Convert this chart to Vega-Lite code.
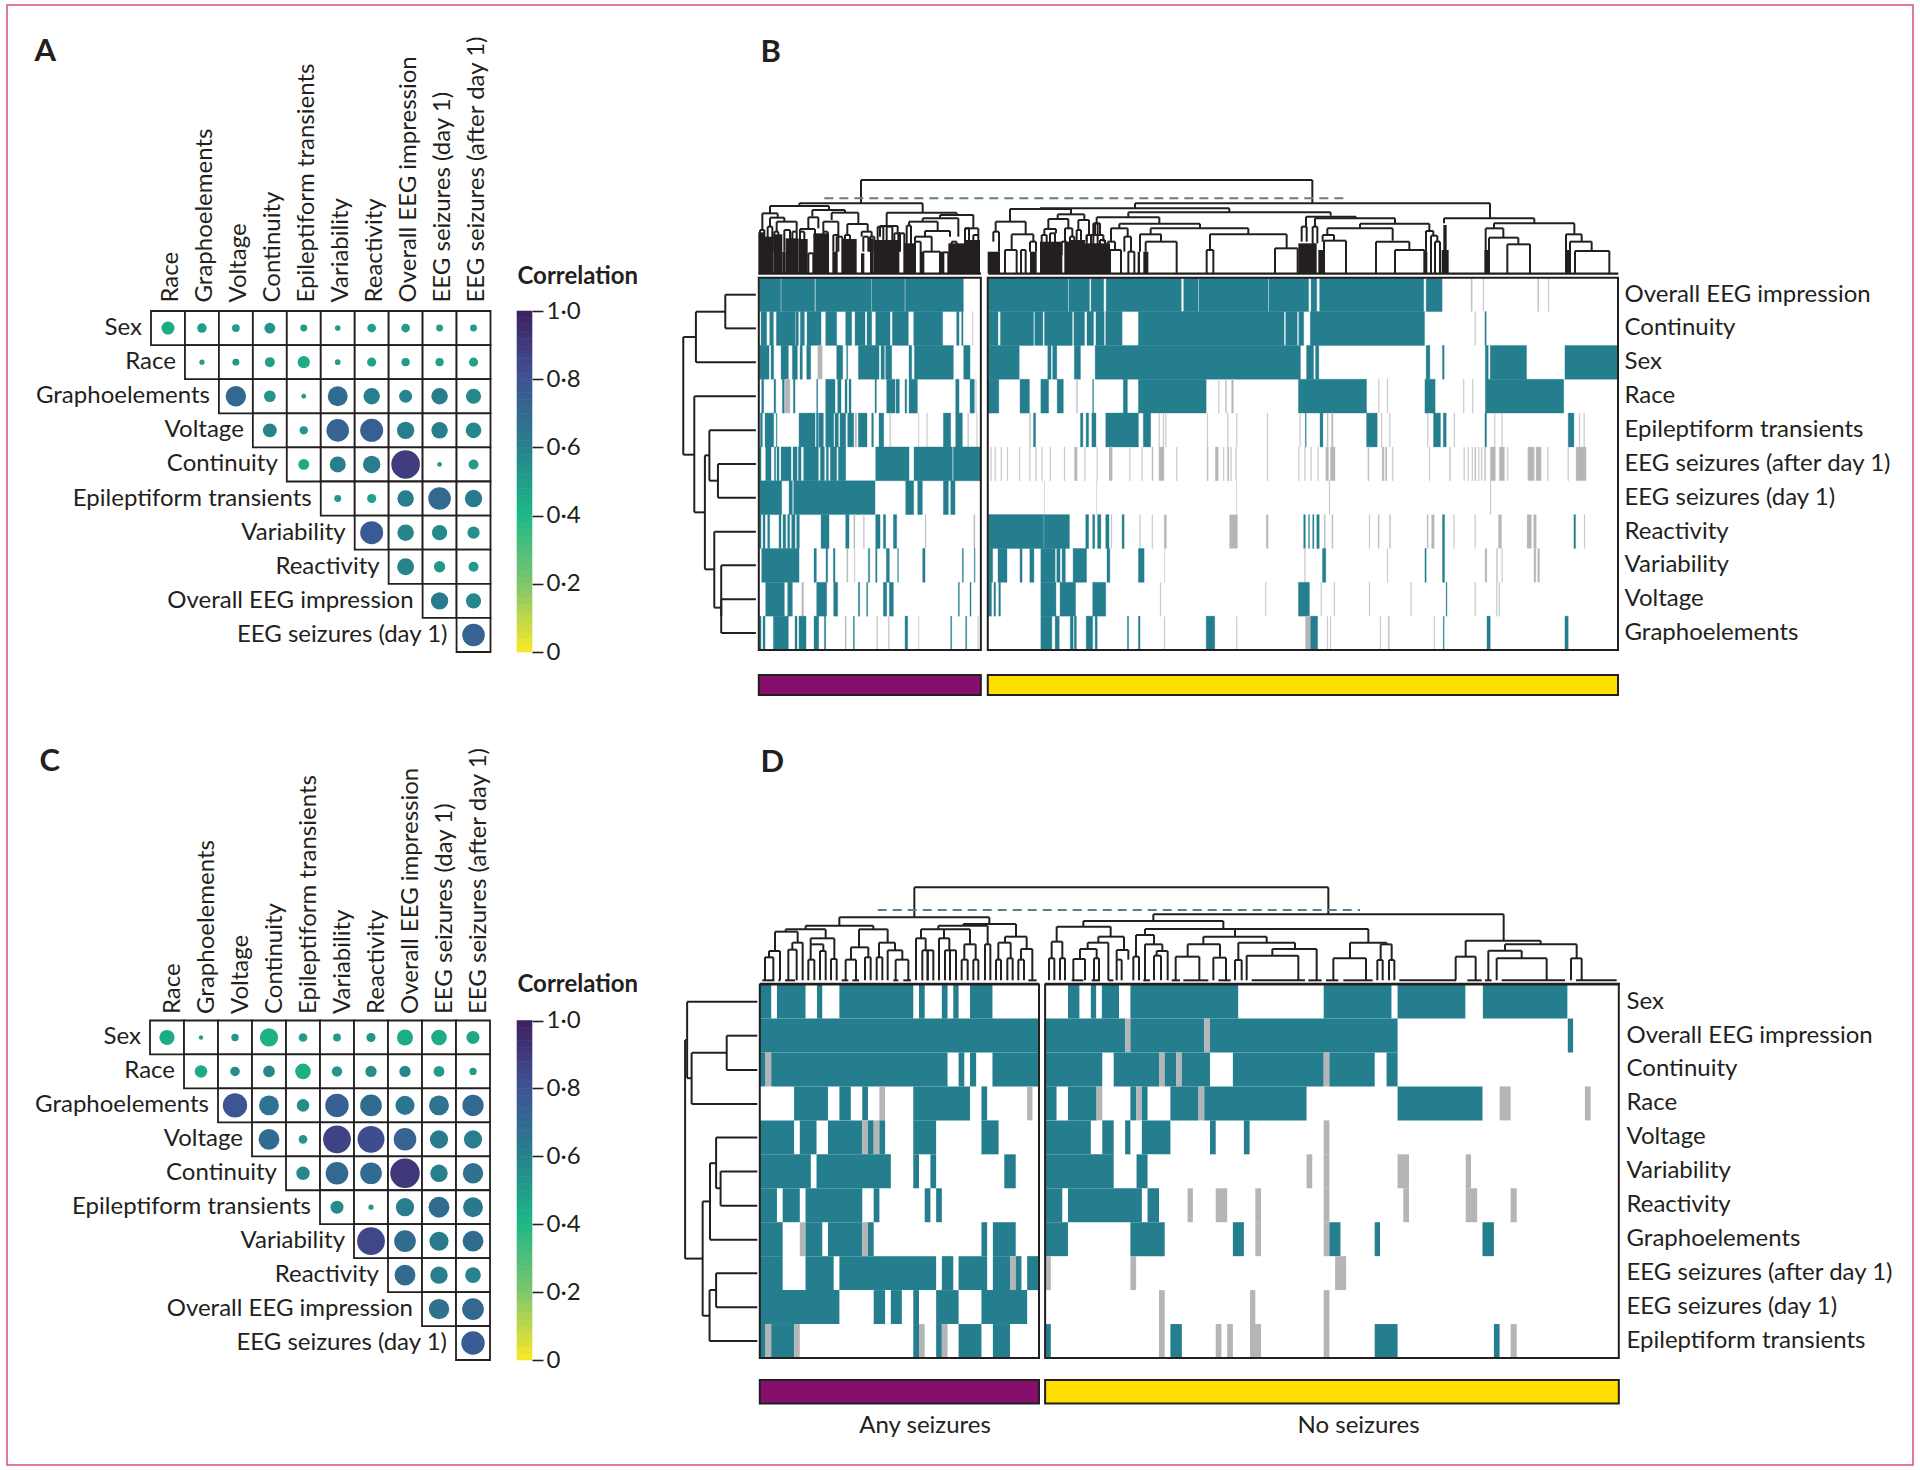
{
"$schema":"https://vega.github.io/schema/vega-lite/v6.json",
"width":1920,"height":1470,"autosize":{"type":"none"},"padding":0,"background":"white",
"config":{"view":{"stroke":null},"font":"Lato","axis":{"grid":false},"text":{"font":"Lato"}},
"resolve":{"scale":{"x":"independent","y":"independent","color":"independent","size":"independent","stroke":"independent"}},
"datasets":{
"frame":[{"a":0,"b":1}],
"ramp":[{"c":0,"d":0.02},{"c":0.02,"d":0.04},{"c":0.04,"d":0.06},{"c":0.06,"d":0.08},{"c":0.08,"d":0.1},{"c":0.1,"d":0.12},{"c":0.12,"d":0.14},{"c":0.14,"d":0.16},{"c":0.16,"d":0.18},{"c":0.18,"d":0.2},{"c":0.2,"d":0.22},{"c":0.22,"d":0.24},{"c":0.24,"d":0.26},{"c":0.26,"d":0.28},{"c":0.28,"d":0.3},{"c":0.3,"d":0.32},{"c":0.32,"d":0.34},{"c":0.34,"d":0.36},{"c":0.36,"d":0.38},{"c":0.38,"d":0.4},{"c":0.4,"d":0.42},{"c":0.42,"d":0.44},{"c":0.44,"d":0.46},{"c":0.46,"d":0.48},{"c":0.48,"d":0.5},{"c":0.5,"d":0.52},{"c":0.52,"d":0.54},{"c":0.54,"d":0.56},{"c":0.56,"d":0.58},{"c":0.58,"d":0.6},{"c":0.6,"d":0.62},{"c":0.62,"d":0.64},{"c":0.64,"d":0.66},{"c":0.66,"d":0.68},{"c":0.68,"d":0.7},{"c":0.7,"d":0.72},{"c":0.72,"d":0.74},{"c":0.74,"d":0.76},{"c":0.76,"d":0.78},{"c":0.78,"d":0.8},{"c":0.8,"d":0.82},{"c":0.82,"d":0.84},{"c":0.84,"d":0.86},{"c":0.86,"d":0.88},{"c":0.88,"d":0.9},{"c":0.9,"d":0.92},{"c":0.92,"d":0.94},{"c":0.94,"d":0.96},{"c":0.96,"d":0.98},{"c":0.98,"d":1}],
"rowLabels":[{"row":"Sex","col":"Race"},{"row":"Race","col":"Graphoelements"},{"row":"Graphoelements","col":"Voltage"},{"row":"Voltage","col":"Continuity"},{"row":"Continuity","col":"Epileptiform transients"},{"row":"Epileptiform transients","col":"Variability"},{"row":"Variability","col":"Reactivity"},{"row":"Reactivity","col":"Overall EEG impression"},{"row":"Overall EEG impression","col":"EEG seizures (day 1)"},{"row":"EEG seizures (day 1)","col":"EEG seizures (after day 1)"}],
"cellsA":[
{"row":"Sex","col":"Race","dot":30,"corr":0.44},{"row":"Sex","col":"Graphoelements","dot":22,"corr":0.48},{"row":"Sex","col":"Voltage","dot":18,"corr":0.5},{"row":"Sex","col":"Continuity","dot":25,"corr":0.52},{"row":"Sex","col":"Epileptiform transients","dot":16,"corr":0.5},{"row":"Sex","col":"Variability","dot":13,"corr":0.5},{"row":"Sex","col":"Reactivity","dot":20,"corr":0.48},{"row":"Sex","col":"Overall EEG impression","dot":20,"corr":0.5},{"row":"Sex","col":"EEG seizures (day 1)","dot":16,"corr":0.47},{"row":"Sex","col":"EEG seizures (after day 1)","dot":16,"corr":0.5},
{"row":"Race","col":"Graphoelements","dot":12,"corr":0.5},{"row":"Race","col":"Voltage","dot":16,"corr":0.52},{"row":"Race","col":"Continuity","dot":23,"corr":0.48},{"row":"Race","col":"Epileptiform transients","dot":28,"corr":0.44},{"row":"Race","col":"Variability","dot":13,"corr":0.5},{"row":"Race","col":"Reactivity","dot":21,"corr":0.48},{"row":"Race","col":"Overall EEG impression","dot":19,"corr":0.5},{"row":"Race","col":"EEG seizures (day 1)","dot":19,"corr":0.48},{"row":"Race","col":"EEG seizures (after day 1)","dot":21,"corr":0.47},
{"row":"Graphoelements","col":"Voltage","dot":47,"corr":0.7},{"row":"Graphoelements","col":"Continuity","dot":27,"corr":0.52},{"row":"Graphoelements","col":"Epileptiform transients","dot":11,"corr":0.5},{"row":"Graphoelements","col":"Variability","dot":46,"corr":0.68},{"row":"Graphoelements","col":"Reactivity","dot":38,"corr":0.6},{"row":"Graphoelements","col":"Overall EEG impression","dot":30,"corr":0.58},{"row":"Graphoelements","col":"EEG seizures (day 1)","dot":38,"corr":0.6},{"row":"Graphoelements","col":"EEG seizures (after day 1)","dot":35,"corr":0.56},
{"row":"Voltage","col":"Continuity","dot":32,"corr":0.58},{"row":"Voltage","col":"Epileptiform transients","dot":19,"corr":0.52},{"row":"Voltage","col":"Variability","dot":52,"corr":0.72},{"row":"Voltage","col":"Reactivity","dot":53,"corr":0.74},{"row":"Voltage","col":"Overall EEG impression","dot":40,"corr":0.6},{"row":"Voltage","col":"EEG seizures (day 1)","dot":38,"corr":0.6},{"row":"Voltage","col":"EEG seizures (after day 1)","dot":36,"corr":0.57},
{"row":"Continuity","col":"Epileptiform transients","dot":25,"corr":0.45},{"row":"Continuity","col":"Variability","dot":37,"corr":0.6},{"row":"Continuity","col":"Reactivity","dot":40,"corr":0.6},{"row":"Continuity","col":"Overall EEG impression","dot":66,"corr":0.88},{"row":"Continuity","col":"EEG seizures (day 1)","dot":11,"corr":0.5},{"row":"Continuity","col":"EEG seizures (after day 1)","dot":23,"corr":0.5},
{"row":"Epileptiform transients","col":"Variability","dot":16,"corr":0.5},{"row":"Epileptiform transients","col":"Reactivity","dot":21,"corr":0.47},{"row":"Epileptiform transients","col":"Overall EEG impression","dot":38,"corr":0.6},{"row":"Epileptiform transients","col":"EEG seizures (day 1)","dot":52,"corr":0.7},{"row":"Epileptiform transients","col":"EEG seizures (after day 1)","dot":40,"corr":0.62},
{"row":"Variability","col":"Reactivity","dot":53,"corr":0.76},{"row":"Variability","col":"Overall EEG impression","dot":38,"corr":0.58},{"row":"Variability","col":"EEG seizures (day 1)","dot":35,"corr":0.56},{"row":"Variability","col":"EEG seizures (after day 1)","dot":28,"corr":0.54},
{"row":"Reactivity","col":"Overall EEG impression","dot":39,"corr":0.58},{"row":"Reactivity","col":"EEG seizures (day 1)","dot":26,"corr":0.52},{"row":"Reactivity","col":"EEG seizures (after day 1)","dot":23,"corr":0.5},
{"row":"Overall EEG impression","col":"EEG seizures (day 1)","dot":40,"corr":0.62},{"row":"Overall EEG impression","col":"EEG seizures (after day 1)","dot":35,"corr":0.57},
{"row":"EEG seizures (day 1)","col":"EEG seizures (after day 1)","dot":52,"corr":0.72}],
"cellsC":[
{"row":"Sex","col":"Race","dot":35,"corr":0.44},{"row":"Sex","col":"Graphoelements","dot":10,"corr":0.5},{"row":"Sex","col":"Voltage","dot":17,"corr":0.52},{"row":"Sex","col":"Continuity","dot":42,"corr":0.42},{"row":"Sex","col":"Epileptiform transients","dot":20,"corr":0.5},{"row":"Sex","col":"Variability","dot":18,"corr":0.5},{"row":"Sex","col":"Reactivity","dot":21,"corr":0.52},{"row":"Sex","col":"Overall EEG impression","dot":37,"corr":0.44},{"row":"Sex","col":"EEG seizures (day 1)","dot":36,"corr":0.44},{"row":"Sex","col":"EEG seizures (after day 1)","dot":30,"corr":0.46},
{"row":"Race","col":"Graphoelements","dot":29,"corr":0.44},{"row":"Race","col":"Voltage","dot":22,"corr":0.55},{"row":"Race","col":"Continuity","dot":27,"corr":0.57},{"row":"Race","col":"Epileptiform transients","dot":36,"corr":0.43},{"row":"Race","col":"Variability","dot":24,"corr":0.52},{"row":"Race","col":"Reactivity","dot":26,"corr":0.55},{"row":"Race","col":"Overall EEG impression","dot":26,"corr":0.57},{"row":"Race","col":"EEG seizures (day 1)","dot":25,"corr":0.5},{"row":"Race","col":"EEG seizures (after day 1)","dot":17,"corr":0.5},
{"row":"Graphoelements","col":"Voltage","dot":56,"corr":0.78},{"row":"Graphoelements","col":"Continuity","dot":46,"corr":0.65},{"row":"Graphoelements","col":"Epileptiform transients","dot":29,"corr":0.55},{"row":"Graphoelements","col":"Variability","dot":54,"corr":0.74},{"row":"Graphoelements","col":"Reactivity","dot":50,"corr":0.68},{"row":"Graphoelements","col":"Overall EEG impression","dot":44,"corr":0.63},{"row":"Graphoelements","col":"EEG seizures (day 1)","dot":46,"corr":0.65},{"row":"Graphoelements","col":"EEG seizures (after day 1)","dot":49,"corr":0.7},
{"row":"Voltage","col":"Continuity","dot":48,"corr":0.68},{"row":"Voltage","col":"Epileptiform transients","dot":20,"corr":0.52},{"row":"Voltage","col":"Variability","dot":64,"corr":0.86},{"row":"Voltage","col":"Reactivity","dot":62,"corr":0.82},{"row":"Voltage","col":"Overall EEG impression","dot":52,"corr":0.72},{"row":"Voltage","col":"EEG seizures (day 1)","dot":42,"corr":0.62},{"row":"Voltage","col":"EEG seizures (after day 1)","dot":42,"corr":0.6},
{"row":"Continuity","col":"Epileptiform transients","dot":31,"corr":0.57},{"row":"Continuity","col":"Variability","dot":52,"corr":0.7},{"row":"Continuity","col":"Reactivity","dot":50,"corr":0.68},{"row":"Continuity","col":"Overall EEG impression","dot":68,"corr":0.9},{"row":"Continuity","col":"EEG seizures (day 1)","dot":40,"corr":0.6},{"row":"Continuity","col":"EEG seizures (after day 1)","dot":47,"corr":0.66},
{"row":"Epileptiform transients","col":"Variability","dot":30,"corr":0.55},{"row":"Epileptiform transients","col":"Reactivity","dot":12,"corr":0.5},{"row":"Epileptiform transients","col":"Overall EEG impression","dot":42,"corr":0.6},{"row":"Epileptiform transients","col":"EEG seizures (day 1)","dot":48,"corr":0.68},{"row":"Epileptiform transients","col":"EEG seizures (after day 1)","dot":46,"corr":0.63},
{"row":"Variability","col":"Reactivity","dot":64,"corr":0.84},{"row":"Variability","col":"Overall EEG impression","dot":50,"corr":0.68},{"row":"Variability","col":"EEG seizures (day 1)","dot":44,"corr":0.62},{"row":"Variability","col":"EEG seizures (after day 1)","dot":48,"corr":0.68},
{"row":"Reactivity","col":"Overall EEG impression","dot":48,"corr":0.68},{"row":"Reactivity","col":"EEG seizures (day 1)","dot":40,"corr":0.6},{"row":"Reactivity","col":"EEG seizures (after day 1)","dot":36,"corr":0.58},
{"row":"Overall EEG impression","col":"EEG seizures (day 1)","dot":47,"corr":0.66},{"row":"Overall EEG impression","col":"EEG seizures (after day 1)","dot":50,"corr":0.7},
{"row":"EEG seizures (day 1)","col":"EEG seizures (after day 1)","dot":54,"corr":0.75}],
"heatBL":[
{"r":0,"a":14,"b":77,"v":"yes"},{"r":0,"a":79,"b":179,"v":"yes"},{"r":0,"a":182,"b":349,"v":"yes"},{"r":0,"a":351,"b":449,"v":"yes"},{"r":0,"a":451,"b":625,"v":"yes"},
{"r":1,"a":18,"b":35,"v":"yes"},{"r":1,"a":44,"b":55,"v":"yes"},{"r":1,"a":64,"b":120,"v":"yes"},{"r":1,"a":122,"b":130,"v":"yes"},{"r":1,"a":136,"b":148,"v":"yes"},{"r":1,"a":156,"b":198,"v":"yes"},{"r":1,"a":212,"b":245,"v":"yes"},{"r":1,"a":272,"b":290,"v":"yes"},{"r":1,"a":300,"b":330,"v":"yes"},{"r":1,"a":336,"b":350,"v":"yes"},{"r":1,"a":362,"b":405,"v":"yes"},{"r":1,"a":412,"b":460,"v":"yes"},{"r":1,"a":476,"b":563,"v":"yes"},{"r":1,"a":605,"b":612,"v":"yes"},{"r":1,"a":620,"b":624,"v":"yes"},{"r":1,"a":652,"b":654,"v":"na"},
{"r":2,"a":14,"b":42,"v":"yes"},{"r":2,"a":48,"b":56,"v":"yes"},{"r":2,"a":78,"b":100,"v":"yes"},{"r":2,"a":112,"b":127,"v":"yes"},{"r":2,"a":135,"b":142,"v":"yes"},{"r":2,"a":155,"b":167,"v":"yes"},{"r":2,"a":188,"b":202,"v":"na"},{"r":2,"a":245,"b":263,"v":"yes"},{"r":2,"a":275,"b":278,"v":"yes"},{"r":2,"a":310,"b":372,"v":"yes"},{"r":2,"a":378,"b":388,"v":"yes"},{"r":2,"a":392,"b":410,"v":"yes"},{"r":2,"a":462,"b":470,"v":"yes"},{"r":2,"a":478,"b":595,"v":"yes"},{"r":2,"a":626,"b":645,"v":"yes"},
{"r":3,"a":20,"b":26,"v":"yes"},{"r":3,"a":57,"b":62,"v":"yes"},{"r":3,"a":82,"b":88,"v":"yes"},{"r":3,"a":90,"b":105,"v":"na"},{"r":3,"a":115,"b":120,"v":"yes"},{"r":3,"a":185,"b":188,"v":"yes"},{"r":3,"a":212,"b":240,"v":"yes"},{"r":3,"a":248,"b":258,"v":"yes"},{"r":3,"a":270,"b":276,"v":"yes"},{"r":3,"a":282,"b":288,"v":"yes"},{"r":3,"a":360,"b":364,"v":"yes"},{"r":3,"a":395,"b":420,"v":"yes"},{"r":3,"a":423,"b":433,"v":"yes"},{"r":3,"a":450,"b":455,"v":"yes"},{"r":3,"a":462,"b":487,"v":"yes"},{"r":3,"a":602,"b":612,"v":"yes"},{"r":3,"a":645,"b":658,"v":"yes"},{"r":3,"a":662,"b":664,"v":"na"},
{"r":4,"a":16,"b":22,"v":"yes"},{"r":4,"a":30,"b":56,"v":"yes"},{"r":4,"a":64,"b":66,"v":"yes"},{"r":4,"a":132,"b":180,"v":"yes"},{"r":4,"a":184,"b":190,"v":"yes"},{"r":4,"a":192,"b":205,"v":"yes"},{"r":4,"a":212,"b":236,"v":"yes"},{"r":4,"a":240,"b":250,"v":"yes"},{"r":4,"a":255,"b":272,"v":"yes"},{"r":4,"a":278,"b":296,"v":"yes"},{"r":4,"a":300,"b":305,"v":"na"},{"r":4,"a":310,"b":336,"v":"yes"},{"r":4,"a":350,"b":355,"v":"yes"},{"r":4,"a":372,"b":386,"v":"yes"},{"r":4,"a":404,"b":407,"v":"na"},{"r":4,"a":490,"b":492,"v":"na"},{"r":4,"a":515,"b":517,"v":"na"},{"r":4,"a":565,"b":587,"v":"yes"},{"r":4,"a":602,"b":622,"v":"yes"},{"r":4,"a":638,"b":641,"v":"na"},{"r":4,"a":665,"b":667,"v":"na"},
{"r":5,"a":14,"b":18,"v":"yes"},{"r":5,"a":32,"b":48,"v":"yes"},{"r":5,"a":58,"b":62,"v":"yes"},{"r":5,"a":66,"b":72,"v":"yes"},{"r":5,"a":78,"b":108,"v":"yes"},{"r":5,"a":114,"b":126,"v":"yes"},{"r":5,"a":130,"b":138,"v":"yes"},{"r":5,"a":146,"b":190,"v":"yes"},{"r":5,"a":196,"b":208,"v":"yes"},{"r":5,"a":214,"b":220,"v":"yes"},{"r":5,"a":226,"b":245,"v":"yes"},{"r":5,"a":250,"b":272,"v":"yes"},{"r":5,"a":362,"b":462,"v":"yes"},{"r":5,"a":477,"b":592,"v":"yes"},{"r":5,"a":595,"b":677,"v":"yes"},
{"r":6,"a":14,"b":80,"v":"yes"},{"r":6,"a":102,"b":112,"v":"yes"},{"r":6,"a":116,"b":360,"v":"yes"},{"r":6,"a":452,"b":476,"v":"yes"},{"r":6,"a":488,"b":502,"v":"yes"},{"r":6,"a":565,"b":580,"v":"yes"},{"r":6,"a":587,"b":600,"v":"yes"},
{"r":7,"a":14,"b":18,"v":"yes"},{"r":7,"a":24,"b":30,"v":"yes"},{"r":7,"a":38,"b":44,"v":"yes"},{"r":7,"a":72,"b":78,"v":"yes"},{"r":7,"a":84,"b":92,"v":"yes"},{"r":7,"a":98,"b":104,"v":"yes"},{"r":7,"a":110,"b":120,"v":"yes"},{"r":7,"a":125,"b":133,"v":"yes"},{"r":7,"a":198,"b":222,"v":"yes"},{"r":7,"a":272,"b":282,"v":"yes"},{"r":7,"a":296,"b":300,"v":"na"},{"r":7,"a":325,"b":328,"v":"na"},{"r":7,"a":362,"b":375,"v":"yes"},{"r":7,"a":385,"b":392,"v":"yes"},{"r":7,"a":415,"b":425,"v":"yes"},{"r":7,"a":510,"b":513,"v":"na"},{"r":7,"a":656,"b":660,"v":"na"},
{"r":8,"a":20,"b":132,"v":"yes"},{"r":8,"a":177,"b":184,"v":"yes"},{"r":8,"a":213,"b":218,"v":"yes"},{"r":8,"a":235,"b":240,"v":"yes"},{"r":8,"a":275,"b":279,"v":"na"},{"r":8,"a":298,"b":300,"v":"na"},{"r":8,"a":340,"b":344,"v":"yes"},{"r":8,"a":362,"b":366,"v":"yes"},{"r":8,"a":394,"b":403,"v":"yes"},{"r":8,"a":428,"b":430,"v":"yes"},{"r":8,"a":503,"b":510,"v":"yes"},{"r":8,"a":622,"b":625,"v":"yes"},{"r":8,"a":658,"b":660,"v":"yes"},
{"r":9,"a":32,"b":88,"v":"yes"},{"r":9,"a":98,"b":112,"v":"yes"},{"r":9,"a":140,"b":146,"v":"na"},{"r":9,"a":185,"b":215,"v":"yes"},{"r":9,"a":236,"b":248,"v":"yes"},{"r":9,"a":310,"b":314,"v":"yes"},{"r":9,"a":335,"b":338,"v":"yes"},{"r":9,"a":385,"b":395,"v":"yes"},{"r":9,"a":403,"b":415,"v":"yes"},{"r":9,"a":610,"b":613,"v":"yes"},{"r":9,"a":645,"b":648,"v":"yes"},
{"r":10,"a":14,"b":18,"v":"yes"},{"r":10,"a":24,"b":30,"v":"yes"},{"r":10,"a":55,"b":100,"v":"yes"},{"r":10,"a":120,"b":126,"v":"yes"},{"r":10,"a":132,"b":153,"v":"yes"},{"r":10,"a":177,"b":191,"v":"yes"},{"r":10,"a":208,"b":212,"v":"yes"},{"r":10,"a":270,"b":274,"v":"na"},{"r":10,"a":295,"b":298,"v":"yes"},{"r":10,"a":365,"b":368,"v":"na"},{"r":10,"a":400,"b":403,"v":"na"},{"r":10,"a":450,"b":458,"v":"yes"},{"r":10,"a":490,"b":492,"v":"na"},{"r":10,"a":587,"b":590,"v":"yes"},{"r":10,"a":632,"b":635,"v":"yes"},{"r":10,"a":668,"b":670,"v":"na"}],
"heatBR":[
{"r":0,"a":805,"b":1000,"v":"yes"},{"r":0,"a":1002,"b":1052,"v":"yes"},{"r":0,"a":1056,"b":1087,"v":"yes"},{"r":0,"a":1093,"b":1277,"v":"yes"},{"r":0,"a":1283,"b":1318,"v":"yes"},{"r":0,"a":1320,"b":1490,"v":"yes"},{"r":0,"a":1492,"b":1589,"v":"yes"},{"r":0,"a":1595,"b":1609,"v":"yes"},{"r":0,"a":1616,"b":1871,"v":"yes"},{"r":0,"a":1877,"b":1916,"v":"yes"},{"r":0,"a":1987,"b":1990,"v":"na"},{"r":0,"a":2016,"b":2018,"v":"na"},{"r":0,"a":2150,"b":2153,"v":"na"},{"r":0,"a":2176,"b":2178,"v":"na"},
{"r":1,"a":805,"b":828,"v":"yes"},{"r":1,"a":834,"b":915,"v":"yes"},{"r":1,"a":918,"b":938,"v":"yes"},{"r":1,"a":942,"b":1010,"v":"yes"},{"r":1,"a":1014,"b":1040,"v":"yes"},{"r":1,"a":1046,"b":1062,"v":"yes"},{"r":1,"a":1068,"b":1088,"v":"yes"},{"r":1,"a":1092,"b":1132,"v":"yes"},{"r":1,"a":1172,"b":1529,"v":"yes"},{"r":1,"a":1533,"b":1561,"v":"yes"},{"r":1,"a":1565,"b":1577,"v":"yes"},{"r":1,"a":1593,"b":1873,"v":"yes"},{"r":1,"a":1996,"b":1998,"v":"na"},{"r":1,"a":2021,"b":2024,"v":"yes"},
{"r":2,"a":805,"b":880,"v":"yes"},{"r":2,"a":950,"b":958,"v":"yes"},{"r":2,"a":962,"b":972,"v":"yes"},{"r":2,"a":1015,"b":1030,"v":"yes"},{"r":2,"a":1066,"b":1569,"v":"yes"},{"r":2,"a":1584,"b":1601,"v":"yes"},{"r":2,"a":1606,"b":1614,"v":"yes"},{"r":2,"a":1877,"b":1886,"v":"yes"},{"r":2,"a":1917,"b":1921,"v":"yes"},{"r":2,"a":2022,"b":2029,"v":"yes"},{"r":2,"a":2034,"b":2123,"v":"yes"},{"r":2,"a":2217,"b":2347,"v":"yes"},
{"r":3,"a":803,"b":830,"v":"yes"},{"r":3,"a":882,"b":905,"v":"yes"},{"r":3,"a":933,"b":952,"v":"yes"},{"r":3,"a":973,"b":988,"v":"yes"},{"r":3,"a":1020,"b":1023,"v":"na"},{"r":3,"a":1060,"b":1062,"v":"yes"},{"r":3,"a":1135,"b":1145,"v":"yes"},{"r":3,"a":1172,"b":1338,"v":"yes"},{"r":3,"a":1368,"b":1370,"v":"na"},{"r":3,"a":1385,"b":1388,"v":"na"},{"r":3,"a":1400,"b":1405,"v":"na"},{"r":3,"a":1564,"b":1731,"v":"yes"},{"r":3,"a":1760,"b":1762,"v":"na"},{"r":3,"a":1781,"b":1783,"v":"na"},{"r":3,"a":1874,"b":1899,"v":"yes"},{"r":3,"a":1968,"b":1970,"v":"na"},{"r":3,"a":1990,"b":1992,"v":"na"},{"r":3,"a":2022,"b":2214,"v":"yes"},
{"r":4,"a":905,"b":908,"v":"na"},{"r":4,"a":915,"b":920,"v":"yes"},{"r":4,"a":1030,"b":1036,"v":"yes"},{"r":4,"a":1044,"b":1050,"v":"yes"},{"r":4,"a":1058,"b":1068,"v":"yes"},{"r":4,"a":1092,"b":1172,"v":"yes"},{"r":4,"a":1184,"b":1202,"v":"yes"},{"r":4,"a":1222,"b":1224,"v":"na"},{"r":4,"a":1232,"b":1234,"v":"na"},{"r":4,"a":1238,"b":1240,"v":"na"},{"r":4,"a":1340,"b":1342,"v":"na"},{"r":4,"a":1390,"b":1392,"v":"na"},{"r":4,"a":1412,"b":1414,"v":"na"},{"r":4,"a":1487,"b":1489,"v":"na"},{"r":4,"a":1567,"b":1569,"v":"na"},{"r":4,"a":1581,"b":1583,"v":"yes"},{"r":4,"a":1617,"b":1624,"v":"yes"},{"r":4,"a":1634,"b":1637,"v":"na"},{"r":4,"a":1645,"b":1649,"v":"na"},{"r":4,"a":1731,"b":1757,"v":"yes"},{"r":4,"a":1767,"b":1769,"v":"na"},{"r":4,"a":1787,"b":1789,"v":"na"},{"r":4,"a":1880,"b":1882,"v":"na"},{"r":4,"a":1895,"b":1912,"v":"yes"},{"r":4,"a":1919,"b":1926,"v":"yes"},{"r":4,"a":1945,"b":1947,"v":"na"},{"r":4,"a":2021,"b":2025,"v":"yes"},{"r":4,"a":2044,"b":2046,"v":"na"},{"r":4,"a":2062,"b":2064,"v":"na"},{"r":4,"a":2225,"b":2239,"v":"yes"},{"r":4,"a":2252,"b":2254,"v":"na"},{"r":4,"a":2263,"b":2265,"v":"na"},
{"r":5,"a":810,"b":812,"v":"na"},{"r":5,"a":820,"b":822,"v":"na"},{"r":5,"a":835,"b":837,"v":"na"},{"r":5,"a":850,"b":852,"v":"na"},{"r":5,"a":880,"b":882,"v":"na"},{"r":5,"a":905,"b":907,"v":"na"},{"r":5,"a":920,"b":922,"v":"na"},{"r":5,"a":935,"b":937,"v":"na"},{"r":5,"a":955,"b":957,"v":"na"},{"r":5,"a":990,"b":992,"v":"na"},{"r":5,"a":1015,"b":1022,"v":"na"},{"r":5,"a":1040,"b":1042,"v":"na"},{"r":5,"a":1070,"b":1072,"v":"na"},{"r":5,"a":1100,"b":1108,"v":"na"},{"r":5,"a":1150,"b":1152,"v":"na"},{"r":5,"a":1180,"b":1182,"v":"na"},{"r":5,"a":1205,"b":1208,"v":"na"},{"r":5,"a":1222,"b":1235,"v":"na"},{"r":5,"a":1265,"b":1267,"v":"na"},{"r":5,"a":1340,"b":1343,"v":"na"},{"r":5,"a":1360,"b":1368,"v":"na"},{"r":5,"a":1380,"b":1382,"v":"na"},{"r":5,"a":1390,"b":1394,"v":"na"},{"r":5,"a":1398,"b":1400,"v":"na"},{"r":5,"a":1410,"b":1412,"v":"na"},{"r":5,"a":1487,"b":1489,"v":"na"},{"r":5,"a":1564,"b":1566,"v":"na"},{"r":5,"a":1579,"b":1581,"v":"na"},{"r":5,"a":1594,"b":1596,"v":"na"},{"r":5,"a":1611,"b":1613,"v":"na"},{"r":5,"a":1631,"b":1638,"v":"na"},{"r":5,"a":1642,"b":1654,"v":"na"},{"r":5,"a":1734,"b":1737,"v":"na"},{"r":5,"a":1769,"b":1774,"v":"na"},{"r":5,"a":1777,"b":1781,"v":"na"},{"r":5,"a":1794,"b":1796,"v":"na"},{"r":5,"a":1884,"b":1886,"v":"na"},{"r":5,"a":1934,"b":1937,"v":"na"},{"r":5,"a":1969,"b":1971,"v":"na"},{"r":5,"a":1979,"b":1981,"v":"na"},{"r":5,"a":1989,"b":1991,"v":"na"},{"r":5,"a":1996,"b":1999,"v":"na"},{"r":5,"a":2005,"b":2007,"v":"na"},{"r":5,"a":2012,"b":2014,"v":"na"},{"r":5,"a":2020,"b":2023,"v":"na"},{"r":5,"a":2034,"b":2047,"v":"na"},{"r":5,"a":2056,"b":2069,"v":"na"},{"r":5,"a":2076,"b":2078,"v":"na"},{"r":5,"a":2126,"b":2142,"v":"na"},{"r":5,"a":2146,"b":2159,"v":"na"},{"r":5,"a":2174,"b":2176,"v":"na"},{"r":5,"a":2224,"b":2226,"v":"na"},{"r":5,"a":2244,"b":2269,"v":"na"},
{"r":6,"a":941,"b":942,"v":"na"},{"r":6,"a":1069,"b":1070,"v":"na"},{"r":6,"a":1412,"b":1413,"v":"na"},{"r":6,"a":1639,"b":1641,"v":"na"},{"r":6,"a":2034,"b":2036,"v":"na"},
{"r":7,"a":805,"b":940,"v":"yes"},{"r":7,"a":941,"b":1003,"v":"yes"},{"r":7,"a":1043,"b":1050,"v":"yes"},{"r":7,"a":1060,"b":1065,"v":"yes"},{"r":7,"a":1072,"b":1080,"v":"yes"},{"r":7,"a":1092,"b":1100,"v":"yes"},{"r":7,"a":1105,"b":1107,"v":"na"},{"r":7,"a":1132,"b":1137,"v":"yes"},{"r":7,"a":1175,"b":1177,"v":"na"},{"r":7,"a":1205,"b":1207,"v":"na"},{"r":7,"a":1235,"b":1241,"v":"na"},{"r":7,"a":1395,"b":1415,"v":"na"},{"r":7,"a":1485,"b":1490,"v":"na"},{"r":7,"a":1577,"b":1581,"v":"yes"},{"r":7,"a":1589,"b":1591,"v":"yes"},{"r":7,"a":1599,"b":1602,"v":"yes"},{"r":7,"a":1609,"b":1615,"v":"yes"},{"r":7,"a":1627,"b":1630,"v":"na"},{"r":7,"a":1646,"b":1649,"v":"na"},{"r":7,"a":1737,"b":1739,"v":"na"},{"r":7,"a":1759,"b":1762,"v":"na"},{"r":7,"a":1787,"b":1790,"v":"na"},{"r":7,"a":1879,"b":1882,"v":"na"},{"r":7,"a":1890,"b":1897,"v":"na"},{"r":7,"a":1917,"b":1922,"v":"yes"},{"r":7,"a":1944,"b":1946,"v":"na"},{"r":7,"a":1996,"b":1998,"v":"na"},{"r":7,"a":2054,"b":2062,"v":"na"},{"r":7,"a":2124,"b":2135,"v":"na"},{"r":7,"a":2140,"b":2147,"v":"na"},{"r":7,"a":2239,"b":2243,"v":"yes"},{"r":7,"a":2264,"b":2266,"v":"na"},
{"r":8,"a":805,"b":815,"v":"yes"},{"r":8,"a":828,"b":850,"v":"yes"},{"r":8,"a":882,"b":887,"v":"yes"},{"r":8,"a":906,"b":916,"v":"yes"},{"r":8,"a":933,"b":968,"v":"yes"},{"r":8,"a":972,"b":980,"v":"yes"},{"r":8,"a":985,"b":993,"v":"yes"},{"r":8,"a":1012,"b":1045,"v":"yes"},{"r":8,"a":1095,"b":1102,"v":"yes"},{"r":8,"a":1172,"b":1186,"v":"yes"},{"r":8,"a":1236,"b":1237,"v":"na"},{"r":8,"a":1579,"b":1581,"v":"na"},{"r":8,"a":1623,"b":1631,"v":"yes"},{"r":8,"a":1781,"b":1783,"v":"na"},{"r":8,"a":1874,"b":1877,"v":"yes"},{"r":8,"a":1917,"b":1922,"v":"yes"},{"r":8,"a":2021,"b":2026,"v":"na"},{"r":8,"a":2049,"b":2052,"v":"na"},{"r":8,"a":2062,"b":2064,"v":"na"},{"r":8,"a":2141,"b":2146,"v":"na"},{"r":8,"a":2150,"b":2155,"v":"na"},
{"r":9,"a":805,"b":812,"v":"yes"},{"r":9,"a":818,"b":822,"v":"yes"},{"r":9,"a":830,"b":834,"v":"yes"},{"r":9,"a":933,"b":970,"v":"yes"},{"r":9,"a":980,"b":1018,"v":"yes"},{"r":9,"a":1060,"b":1092,"v":"yes"},{"r":9,"a":1225,"b":1227,"v":"na"},{"r":9,"a":1483,"b":1485,"v":"na"},{"r":9,"a":1564,"b":1591,"v":"yes"},{"r":9,"a":1619,"b":1621,"v":"na"},{"r":9,"a":1651,"b":1653,"v":"na"},{"r":9,"a":1737,"b":1739,"v":"na"},{"r":9,"a":1839,"b":1841,"v":"na"},{"r":9,"a":1926,"b":1928,"v":"yes"},{"r":9,"a":1996,"b":1998,"v":"na"},{"r":9,"a":2049,"b":2051,"v":"na"},{"r":9,"a":2055,"b":2057,"v":"na"},
{"r":10,"a":933,"b":960,"v":"yes"},{"r":10,"a":968,"b":978,"v":"yes"},{"r":10,"a":1005,"b":1012,"v":"yes"},{"r":10,"a":1015,"b":1020,"v":"yes"},{"r":10,"a":1044,"b":1060,"v":"yes"},{"r":10,"a":1066,"b":1071,"v":"yes"},{"r":10,"a":1145,"b":1148,"v":"yes"},{"r":10,"a":1172,"b":1176,"v":"yes"},{"r":10,"a":1235,"b":1237,"v":"na"},{"r":10,"a":1338,"b":1359,"v":"yes"},{"r":10,"a":1412,"b":1414,"v":"na"},{"r":10,"a":1581,"b":1594,"v":"na"},{"r":10,"a":1594,"b":1611,"v":"yes"},{"r":10,"a":1634,"b":1636,"v":"na"},{"r":10,"a":1642,"b":1644,"v":"na"},{"r":10,"a":1764,"b":1766,"v":"na"},{"r":10,"a":1784,"b":1787,"v":"na"},{"r":10,"a":1896,"b":1898,"v":"na"},{"r":10,"a":1919,"b":1921,"v":"yes"},{"r":10,"a":2026,"b":2034,"v":"yes"},{"r":10,"a":2217,"b":2225,"v":"yes"}],
"heatD":[
{"r":0,"a":220,"b":248,"v":"yes"},{"r":0,"a":262,"b":332,"v":"yes"},{"r":0,"a":360,"b":373,"v":"yes"},{"r":0,"a":415,"b":596,"v":"yes"},{"r":0,"a":610,"b":624,"v":"yes"},{"r":0,"a":666,"b":680,"v":"yes"},{"r":0,"a":694,"b":707,"v":"yes"},{"r":0,"a":735,"b":790,"v":"yes"},
{"r":0,"a":975,"b":1003,"v":"yes"},{"r":0,"a":1031,"b":1044,"v":"yes"},{"r":0,"a":1058,"b":1100,"v":"yes"},{"r":0,"a":1128,"b":1392,"v":"yes"},{"r":0,"a":1601.5,"b":1767.5,"v":"yes"},{"r":0,"a":1782.5,"b":1948.5,"v":"yes"},{"r":0,"a":1991.5,"b":2198.5,"v":"yes"},
{"r":1,"a":220,"b":904,"v":"yes"},{"r":1,"a":919,"b":1115,"v":"yes"},{"r":1,"a":1115,"b":1128,"v":"na"},{"r":1,"a":1128,"b":1309,"v":"yes"},{"r":1,"a":1309,"b":1323,"v":"na"},{"r":1,"a":1323,"b":1782.5,"v":"yes"},{"r":1,"a":2199.5,"b":2212.5,"v":"yes"},
{"r":2,"a":220,"b":234,"v":"yes"},{"r":2,"a":234,"b":248,"v":"na"},{"r":2,"a":248,"b":680,"v":"yes"},{"r":2,"a":707,"b":721,"v":"yes"},{"r":2,"a":735,"b":750,"v":"yes"},{"r":2,"a":790,"b":904,"v":"yes"},
{"r":2,"a":919,"b":1059,"v":"yes"},{"r":2,"a":1087,"b":1198,"v":"yes"},{"r":2,"a":1198,"b":1212,"v":"na"},{"r":2,"a":1212,"b":1240,"v":"yes"},{"r":2,"a":1240,"b":1254,"v":"na"},{"r":2,"a":1254,"b":1323,"v":"yes"},{"r":2,"a":1379,"b":1601.5,"v":"yes"},{"r":2,"a":1601.5,"b":1615.5,"v":"na"},{"r":2,"a":1615.5,"b":1726.5,"v":"yes"},{"r":2,"a":1755.5,"b":1782.5,"v":"yes"},
{"r":3,"a":304,"b":387,"v":"yes"},{"r":3,"a":415,"b":443,"v":"yes"},{"r":3,"a":471,"b":485,"v":"yes"},{"r":3,"a":513,"b":527,"v":"na"},{"r":3,"a":596,"b":735,"v":"yes"},{"r":3,"a":763,"b":777,"v":"yes"},{"r":3,"a":875,"b":888,"v":"na"},
{"r":3,"a":919,"b":947,"v":"yes"},{"r":3,"a":975,"b":1045,"v":"yes"},{"r":3,"a":1045,"b":1059,"v":"na"},{"r":3,"a":1128,"b":1142,"v":"yes"},{"r":3,"a":1142,"b":1156,"v":"na"},{"r":3,"a":1156,"b":1170,"v":"yes"},{"r":3,"a":1226,"b":1295,"v":"yes"},{"r":3,"a":1295,"b":1309,"v":"na"},{"r":3,"a":1309,"b":1559.5,"v":"yes"},{"r":3,"a":1782.5,"b":1990.5,"v":"yes"},{"r":3,"a":2032.5,"b":2059.5,"v":"na"},{"r":3,"a":2241.5,"b":2255.5,"v":"na"},
{"r":4,"a":220,"b":304,"v":"yes"},{"r":4,"a":318,"b":359,"v":"yes"},{"r":4,"a":387,"b":471,"v":"yes"},{"r":4,"a":471,"b":485,"v":"na"},{"r":4,"a":485,"b":499,"v":"yes"},{"r":4,"a":499,"b":513,"v":"na"},{"r":4,"a":513,"b":527,"v":"yes"},{"r":4,"a":596,"b":652,"v":"yes"},{"r":4,"a":763,"b":805,"v":"yes"},
{"r":4,"a":919,"b":1031,"v":"yes"},{"r":4,"a":1059,"b":1087,"v":"yes"},{"r":4,"a":1115,"b":1128,"v":"yes"},{"r":4,"a":1156,"b":1226,"v":"yes"},{"r":4,"a":1323,"b":1337,"v":"yes"},{"r":4,"a":1406,"b":1420,"v":"yes"},{"r":4,"a":1601.5,"b":1615.5,"v":"na"},
{"r":5,"a":220,"b":345,"v":"yes"},{"r":5,"a":359,"b":541,"v":"yes"},{"r":5,"a":596,"b":610,"v":"yes"},{"r":5,"a":638,"b":652,"v":"yes"},{"r":5,"a":819,"b":847,"v":"yes"},
{"r":5,"a":919,"b":1087,"v":"yes"},{"r":5,"a":1143,"b":1170,"v":"yes"},{"r":5,"a":1559.5,"b":1573.5,"v":"na"},{"r":5,"a":1601.5,"b":1615.5,"v":"na"},{"r":5,"a":1782.5,"b":1810.5,"v":"na"},{"r":5,"a":1949.5,"b":1962.5,"v":"na"},
{"r":6,"a":220,"b":262,"v":"yes"},{"r":6,"a":276,"b":318,"v":"yes"},{"r":6,"a":332,"b":471,"v":"yes"},{"r":6,"a":499,"b":513,"v":"yes"},{"r":6,"a":624,"b":638,"v":"yes"},{"r":6,"a":652,"b":666,"v":"yes"},
{"r":6,"a":919,"b":961,"v":"yes"},{"r":6,"a":975,"b":1156,"v":"yes"},{"r":6,"a":1170,"b":1198,"v":"yes"},{"r":6,"a":1268,"b":1281,"v":"na"},{"r":6,"a":1337,"b":1365,"v":"na"},{"r":6,"a":1434,"b":1448,"v":"na"},{"r":6,"a":1601.5,"b":1615.5,"v":"na"},{"r":6,"a":1796.5,"b":1810.5,"v":"na"},{"r":6,"a":1949.5,"b":1977.5,"v":"na"},{"r":6,"a":2059.5,"b":2074.5,"v":"na"},
{"r":7,"a":220,"b":276,"v":"yes"},{"r":7,"a":318,"b":332,"v":"na"},{"r":7,"a":332,"b":373,"v":"yes"},{"r":7,"a":387,"b":471,"v":"yes"},{"r":7,"a":471,"b":485,"v":"na"},{"r":7,"a":485,"b":499,"v":"yes"},{"r":7,"a":763,"b":777,"v":"yes"},{"r":7,"a":791,"b":847,"v":"yes"},
{"r":7,"a":919,"b":975,"v":"yes"},{"r":7,"a":1128,"b":1212,"v":"yes"},{"r":7,"a":1379,"b":1406,"v":"yes"},{"r":7,"a":1434,"b":1448,"v":"na"},{"r":7,"a":1601.5,"b":1615.5,"v":"na"},{"r":7,"a":1615.5,"b":1642.5,"v":"yes"},{"r":7,"a":1726.5,"b":1739.5,"v":"yes"},{"r":7,"a":1990.5,"b":2018.5,"v":"yes"},
{"r":8,"a":220,"b":276,"v":"yes"},{"r":8,"a":332,"b":401,"v":"yes"},{"r":8,"a":415,"b":652,"v":"yes"},{"r":8,"a":666,"b":694,"v":"yes"},{"r":8,"a":707,"b":777,"v":"yes"},{"r":8,"a":791,"b":833,"v":"yes"},{"r":8,"a":833,"b":847,"v":"na"},{"r":8,"a":847,"b":861,"v":"yes"},{"r":8,"a":875,"b":904,"v":"yes"},
{"r":8,"a":919,"b":933,"v":"na"},{"r":8,"a":1128,"b":1142,"v":"na"},{"r":8,"a":1629.5,"b":1656.5,"v":"na"},
{"r":9,"a":220,"b":415,"v":"yes"},{"r":9,"a":499,"b":527,"v":"yes"},{"r":9,"a":541,"b":568,"v":"yes"},{"r":9,"a":596,"b":610,"v":"yes"},{"r":9,"a":652,"b":707,"v":"yes"},{"r":9,"a":763,"b":875,"v":"yes"},
{"r":9,"a":1198,"b":1212,"v":"na"},{"r":9,"a":1421,"b":1434,"v":"na"},{"r":9,"a":1601.5,"b":1615.5,"v":"na"},
{"r":10,"a":220,"b":234,"v":"yes"},{"r":10,"a":234,"b":248,"v":"na"},{"r":10,"a":248,"b":304,"v":"yes"},{"r":10,"a":304,"b":318,"v":"na"},{"r":10,"a":596,"b":610,"v":"yes"},{"r":10,"a":610,"b":624,"v":"na"},{"r":10,"a":652,"b":666,"v":"yes"},{"r":10,"a":666,"b":680,"v":"na"},{"r":10,"a":707,"b":763,"v":"yes"},{"r":10,"a":791,"b":833,"v":"yes"},
{"r":10,"a":919,"b":933,"v":"yes"},{"r":10,"a":1198,"b":1212,"v":"na"},{"r":10,"a":1226,"b":1254,"v":"yes"},{"r":10,"a":1337,"b":1351,"v":"na"},{"r":10,"a":1365,"b":1379,"v":"na"},{"r":10,"a":1421,"b":1448,"v":"na"},{"r":10,"a":1601.5,"b":1615.5,"v":"na"},{"r":10,"a":1726.5,"b":1782.5,"v":"yes"},{"r":10,"a":2018.5,"b":2032.5,"v":"yes"},{"r":10,"a":2059.5,"b":2074.5,"v":"na"}],
"dendB":[
{"l":318,"r":1672,"y":15,"yl":85,"yr":85},{"l":133,"r":503,"y":85,"yl":93,"yr":113},{"l":45,"r":222,"y":93,"yl":115,"yr":105},{"l":22,"r":68,"y":115,"yl":165,"yr":128},{"l":45,"r":88,"y":128,"yl":155,"yr":140},{"l":65,"r":125,"y":140,"yl":170,"yr":170},{"l":172,"r":270,"y":105,"yl":125,"yr":113},{"l":160,"r":190,"y":127,"yl":160,"yr":160},{"l":230,"r":310,"y":113,"yl":135,"yr":147},{"l":205,"r":250,"y":140,"yl":170,"yr":180},{"l":277,"r":338,"y":147,"yl":180,"yr":170},{"l":135,"r":180,"y":162,"yl":185,"yr":235},{"l":320,"r":350,"y":170,"yl":185,"yr":185},{"l":160,"r":175,"y":235,"yl":295,"yr":295},{"l":395,"r":605,"y":113,"yl":150,"yr":120},{"l":555,"r":655,"y":120,"yl":130,"yr":160},{"l":503,"r":610,"y":130,"yl":140,"yr":185},{"l":462,"r":548,"y":140,"yl":150,"yr":165},{"l":510,"r":585,"y":168,"yl":185,"yr":185},{"l":480,"r":530,"y":185,"yl":200,"yr":230},{"l":505,"r":555,"y":230,"yl":295,"yr":295},{"l":480,"r":497,"y":200,"yl":295,"yr":295},{"l":375,"r":428,"y":153,"yl":185,"yr":175},{"l":630,"r":670,"y":160,"yl":185,"yr":180},{"l":430,"r":448,"y":175,"yl":295,"yr":295},{"l":565,"r":580,"y":232,"yl":295,"yr":295},{"l":245,"r":262,"y":185,"yl":295,"yr":295},
{"l":15,"r":28,"y":165,"yl":230,"yr":230},{"l":38,"r":52,"y":155,"yl":230,"yr":230},{"l":58,"r":70,"y":170,"yl":230,"yr":230},{"l":88,"r":105,"y":165,"yl":230,"yr":230},{"l":112,"r":125,"y":170,"yl":230,"yr":230},{"l":135,"r":148,"y":170,"yl":230,"yr":230},{"l":205,"r":218,"y":170,"yl":230,"yr":230},{"l":235,"r":250,"y":180,"yl":230,"yr":230},{"l":270,"r":285,"y":180,"yl":230,"yr":230},{"l":325,"r":340,"y":185,"yl":230,"yr":230},{"l":345,"r":358,"y":185,"yl":230,"yr":230},{"l":368,"r":385,"y":155,"yl":230,"yr":230},{"l":395,"r":412,"y":155,"yl":230,"yr":230},{"l":418,"r":435,"y":175,"yl":230,"yr":230},{"l":455,"r":468,"y":152,"yl":230,"yr":230},{"l":590,"r":605,"y":200,"yl":230,"yr":230},{"l":630,"r":642,"y":160,"yl":230,"yr":230},{"l":655,"r":670,"y":180,"yl":230,"yr":230},{"l":860,"r":875,"y":180,"yl":230,"yr":230},{"l":885,"r":900,"y":175,"yl":230,"yr":230},{"l":905,"r":915,"y":205,"yl":230,"yr":230},{"l":945,"r":958,"y":185,"yl":230,"yr":230},{"l":965,"r":978,"y":165,"yl":230,"yr":230},{"l":995,"r":1008,"y":180,"yl":230,"yr":230},{"l":1015,"r":1028,"y":145,"yl":230,"yr":230},
{"l":1140,"r":2205,"y":85,"yl":100,"yr":130},{"l":855,"r":1423,"y":100,"yl":102,"yr":112},{"l":765,"r":948,"y":102,"yl":140,"yr":118},{"l":1120,"r":1727,"y":112,"yl":127,"yr":122},{"l":1025,"r":1213,"y":127,"yl":145,"yr":145},{"l":1093,"r":1335,"y":146,"yl":160,"yr":160},{"l":1187,"r":1480,"y":160,"yl":178,"yr":178},{"l":1365,"r":1595,"y":178,"yl":225,"yr":220},{"l":1355,"r":1375,"y":225,"yl":295,"yr":295},{"l":1560,"r":1628,"y":220,"yl":295,"yr":295},{"l":1155,"r":1218,"y":178,"yl":230,"yr":200},{"l":1172,"r":1265,"y":200,"yl":230,"yr":295},{"l":1068,"r":1118,"y":160,"yl":200,"yr":185},{"l":1058,"r":1080,"y":200,"yl":225,"yr":225},{"l":1065,"r":1098,"y":225,"yl":295,"yr":295},{"l":1108,"r":1128,"y":185,"yl":230,"yr":230},{"l":1120,"r":1138,"y":230,"yl":295,"yr":295},{"l":750,"r":785,"y":225,"yl":295,"yr":295},{"l":722,"r":812,"y":140,"yl":170,"yr":178},{"l":715,"r":732,"y":170,"yl":200,"yr":230},{"l":770,"r":835,"y":178,"yl":225,"yr":200},{"l":798,"r":812,"y":225,"yl":295,"yr":295},{"l":825,"r":843,"y":200,"yl":230,"yr":230},{"l":908,"r":988,"y":118,"yl":132,"yr":135},{"l":880,"r":940,"y":132,"yl":160,"yr":160},{"l":970,"r":1002,"y":135,"yl":165,"yr":180},{"l":868,"r":903,"y":162,"yl":180,"yr":175},{"l":930,"r":952,"y":160,"yl":200,"yr":185},{"l":1020,"r":1035,"y":145,"yl":180,"yr":180},{"l":995,"r":1045,"y":180,"yl":200,"yr":200},{"l":920,"r":935,"y":200,"yl":240,"yr":240},{"l":1035,"r":1050,"y":195,"yl":225,"yr":225},
{"l":1653,"r":1803,"y":125,"yl":155,"yr":130},{"l":1680,"r":1920,"y":130,"yl":155,"yr":145},{"l":1815,"r":2023,"y":146,"yl":160,"yr":168},{"l":1717,"r":1913,"y":160,"yl":178,"yr":197},{"l":1703,"r":1737,"y":180,"yl":200,"yr":195},{"l":1707,"r":1773,"y":197,"yl":295,"yr":295},{"l":1863,"r":1963,"y":200,"yl":295,"yr":225},{"l":1920,"r":2008,"y":225,"yl":295,"yr":295},{"l":2013,"r":2035,"y":168,"yl":230,"yr":180},{"l":2028,"r":2047,"y":182,"yl":295,"yr":200},{"l":2040,"r":2055,"y":200,"yl":295,"yr":295},{"l":2067,"r":2338,"y":130,"yl":145,"yr":145},{"l":2217,"r":2458,"y":145,"yl":160,"yr":178},{"l":2192,"r":2245,"y":160,"yl":225,"yr":188},{"l":2202,"r":2290,"y":188,"yl":295,"yr":208},{"l":2257,"r":2325,"y":208,"yl":295,"yr":295},{"l":2433,"r":2480,"y":178,"yl":225,"yr":200},{"l":2445,"r":2510,"y":200,"yl":295,"yr":228},{"l":2460,"r":2563,"y":228,"yl":295,"yr":295},{"l":1640,"r":1655,"y":155,"yl":200,"yr":200},{"l":1673,"r":1687,"y":155,"yl":205,"yr":205}],
"blocksB":[
{"a":10,"b":30,"top":172,"base":295},{"a":30,"b":55,"top":185,"base":295},{"a":55,"b":82,"top":178,"base":295},{"a":82,"b":92,"top":230,"base":295},{"a":92,"b":130,"top":190,"base":295},{"a":130,"b":158,"top":192,"base":295},{"a":175,"b":222,"top":175,"base":295},{"a":232,"b":246,"top":230,"base":295},{"a":262,"b":305,"top":192,"base":295},{"a":318,"b":328,"top":235,"base":295},{"a":345,"b":355,"top":190,"base":295},{"a":355,"b":432,"top":195,"base":295},{"a":448,"b":480,"top":205,"base":295},{"a":497,"b":507,"top":230,"base":295},{"a":553,"b":567,"top":230,"base":295},{"a":580,"b":630,"top":205,"base":295},{"a":630,"b":675,"top":195,"base":295},
{"a":698,"b":735,"top":230,"base":295},{"a":825,"b":845,"top":230,"base":295},{"a":855,"b":922,"top":200,"base":295},{"a":928,"b":945,"top":200,"base":295},{"a":945,"b":990,"top":195,"base":295},{"a":990,"b":1065,"top":205,"base":295},{"a":1148,"b":1155,"top":230,"base":295},{"a":1165,"b":1180,"top":230,"base":295},{"a":1630,"b":1680,"top":205,"base":295},
{"a":1635,"b":1670,"top":225,"base":295},{"a":1673,"b":1685,"top":205,"base":295},{"a":1690,"b":1710,"top":225,"base":295},{"a":2060,"b":2081,"top":225,"base":295},{"a":2065,"b":2075,"top":150,"base":295},{"a":2188,"b":2205,"top":225,"base":295},{"a":2430,"b":2443,"top":225,"base":295},{"a":2007,"b":2017,"top":230,"base":295}],
"baseB":[{"a":10,"b":678,"y":296},{"a":700,"b":2590,"y":296}],
"dendBLeft":[{"x":160,"a":404,"b":505,"xa":235,"xb":235},{"x":88,"a":455,"b":607,"xa":160,"xb":235},{"x":57,"a":531,"b":884,"xa":88,"xb":84},{"x":84,"a":709,"b":1057,"xa":235,"xb":110},{"x":110,"a":886,"b":1228,"xa":121,"xb":133},{"x":121,"a":811,"b":962,"xa":235,"xb":142},{"x":142,"a":912,"b":1013,"xa":235,"xb":235},{"x":133,"a":1115,"b":1343,"xa":235,"xb":150},{"x":150,"a":1318,"b":1419,"xa":235,"xb":235},{"x":150,"a":1216,"b":1368,"xa":235,"xb":150}],
"blocksBcohort":[{"a":242,"b":786,"group":"Any seizures"},{"a":803,"b":2347,"group":"No seizures"}],
"dendD":[
{"l":478,"r":1720,"y":37,"yl":127,"yr":118},{"l":253,"r":703,"y":127,"yl":150,"yr":147},{"l":152,"r":355,"y":152,"yl":163,"yr":163},{"l":92,"r":212,"y":163,"yl":170,"yr":190},{"l":60,"r":128,"y":170,"yl":228,"yr":203},{"l":42,"r":75,"y":228,"yl":247,"yr":316},{"l":30,"r":55,"y":247,"yl":316,"yr":316},{"l":112,"r":143,"y":203,"yl":224,"yr":316},{"l":100,"r":125,"y":224,"yl":316,"yr":316},{"l":167,"r":238,"y":190,"yl":208,"yr":252},{"l":167,"r":205,"y":208,"yl":254,"yr":228},{"l":160,"r":178,"y":254,"yl":316,"yr":316},{"l":195,"r":212,"y":228,"yl":316,"yr":316},{"l":228,"r":245,"y":252,"yl":316,"yr":316},{"l":312,"r":398,"y":163,"yl":217,"yr":203},{"l":288,"r":340,"y":217,"yl":254,"yr":247},{"l":272,"r":303,"y":254,"yl":316,"yr":316},{"l":330,"r":347,"y":247,"yl":316,"yr":316},{"l":372,"r":420,"y":203,"yl":247,"yr":226},{"l":365,"r":382,"y":247,"yl":316,"yr":316},{"l":398,"r":442,"y":226,"yl":316,"yr":254},{"l":422,"r":460,"y":254,"yl":316,"yr":316},
{"l":625,"r":783,"y":147,"yl":152,"yr":185},{"l":550,"r":698,"y":152,"yl":163,"yr":208},{"l":498,"r":645,"y":163,"yl":190,"yr":208},{"l":567,"r":567,"y":163,"yl":190,"yr":190},{"l":483,"r":512,"y":190,"yl":316,"yr":226},{"l":502,"r":535,"y":226,"yl":316,"yr":316},{"l":518,"r":518,"y":226,"yl":316,"yr":316},{"l":552,"r":583,"y":190,"yl":316,"yr":226},{"l":570,"r":603,"y":226,"yl":316,"yr":316},{"l":585,"r":585,"y":226,"yl":316,"yr":316},{"l":628,"r":662,"y":208,"yl":254,"yr":254},{"l":620,"r":638,"y":254,"yl":316,"yr":316},{"l":655,"r":670,"y":254,"yl":316,"yr":316},{"l":690,"r":706,"y":208,"yl":316,"yr":316},{"l":750,"r":815,"y":185,"yl":203,"yr":222},{"l":730,"r":767,"y":203,"yl":254,"yr":250},{"l":723,"r":738,"y":254,"yl":316,"yr":316},{"l":757,"r":773,"y":250,"yl":316,"yr":316},{"l":798,"r":832,"y":222,"yl":254,"yr":316},{"l":790,"r":807,"y":254,"yl":316,"yr":316},
{"l":1195,"r":2246,"y":118,"yl":137,"yr":195},{"l":985,"r":1405,"y":138,"yl":155,"yr":162},{"l":905,"r":1067,"y":155,"yl":200,"yr":185},{"l":890,"r":922,"y":200,"yl":250,"yr":250},{"l":882,"r":898,"y":250,"yl":316,"yr":316},{"l":915,"r":930,"y":250,"yl":316,"yr":316},{"l":1030,"r":1107,"y":185,"yl":203,"yr":225},{"l":998,"r":1060,"y":203,"yl":222,"yr":316},{"l":975,"r":1025,"y":222,"yl":252,"yr":250},{"l":955,"r":990,"y":252,"yl":316,"yr":316},{"l":1017,"r":1032,"y":250,"yl":316,"yr":316},{"l":1085,"r":1120,"y":225,"yl":254,"yr":254},{"l":1085,"r":1100,"y":254,"yl":316,"yr":316},{"l":1170,"r":1840,"y":162,"yl":180,"yr":203},{"l":1440,"r":1440,"y":162,"yl":185,"yr":185},{"l":1143,"r":1197,"y":180,"yl":245,"yr":208},{"l":1135,"r":1152,"y":245,"yl":316,"yr":316},{"l":1170,"r":1222,"y":208,"yl":316,"yr":228},{"l":1205,"r":1238,"y":228,"yl":242,"yr":316},{"l":1197,"r":1218,"y":242,"yl":316,"yr":316},{"l":1298,"r":1395,"y":208,"yl":245,"yr":245},{"l":1262,"r":1333,"y":245,"yl":316,"yr":316},{"l":1375,"r":1413,"y":248,"yl":316,"yr":316},{"l":1345,"r":1535,"y":185,"yl":208,"yr":203},{"l":1450,"r":1620,"y":203,"yl":255,"yr":222},{"l":1440,"r":1460,"y":255,"yl":316,"yr":316},{"l":1552,"r":1685,"y":222,"yl":242,"yr":316},{"l":1475,"r":1630,"y":242,"yl":316,"yr":316},{"l":1785,"r":1895,"y":203,"yl":250,"yr":208},{"l":1735,"r":1833,"y":250,"yl":316,"yr":316},{"l":1877,"r":1910,"y":208,"yl":255,"yr":255},{"l":1867,"r":1883,"y":255,"yl":316,"yr":316},{"l":1902,"r":1918,"y":255,"yl":316,"yr":316},{"l":2132,"r":2357,"y":197,"yl":245,"yr":208},{"l":2102,"r":2162,"y":245,"yl":316,"yr":316},{"l":2250,"r":2465,"y":208,"yl":228,"yr":250},{"l":2200,"r":2300,"y":227,"yl":316,"yr":250},{"l":2225,"r":2375,"y":250,"yl":316,"yr":316},{"l":2448,"r":2480,"y":250,"yl":316,"yr":316}],
"feetD":[{"a":22,"b":58,"y":316},{"a":70,"b":76,"y":316},{"a":90,"b":120,"y":316},{"a":260,"b":280,"y":316},{"a":292,"b":312,"y":316},{"a":415,"b":430,"y":316},{"a":445,"b":468,"y":316},{"a":820,"b":845,"y":316},{"a":950,"b":985,"y":316},{"a":1010,"b":1035,"y":316},{"a":1060,"b":1075,"y":316},{"a":1165,"b":1185,"y":316},{"a":1250,"b":1275,"y":316},{"a":1285,"b":1360,"y":316},{"a":1390,"b":1427,"y":316},{"a":1490,"b":1650,"y":316},{"a":1660,"b":1700,"y":316},{"a":1713,"b":1750,"y":316},{"a":1765,"b":1853,"y":316},{"a":1933,"b":2103,"y":316},{"a":2137,"b":2180,"y":316},{"a":2190,"b":2210,"y":316},{"a":2240,"b":2430,"y":316},{"a":2463,"b":2585,"y":316},{"a":15,"b":852,"y":326},{"a":870,"b":2595,"y":326}],
"dendDLeft":[{"x":139,"a":408,"b":504,"xa":214,"xb":214},{"x":53,"a":456,"b":599,"xa":139,"xb":214},{"x":42,"a":313,"b":527,"xa":214,"xb":53},{"x":37,"a":420,"b":1032,"xa":42,"xb":80},{"x":80,"a":872,"b":1192,"xa":98,"xb":97},{"x":98,"a":765,"b":979,"xa":113,"xb":214},{"x":113,"a":693,"b":835,"xa":214,"xb":124},{"x":124,"a":788,"b":884,"xa":214,"xb":214},{"x":97,"a":1120,"b":1263,"xa":113,"xb":214},{"x":113,"a":1073,"b":1168,"xa":214,"xb":214}],
"cohortD":[{"a":220,"b":904,"mid":625,"group":"Any seizures"},{"a":919,"b":2324.5,"mid":1687,"group":"No seizures"}]
},
"layer":[
{"data":{"name":"frame"},"mark":{"type":"rect","fillOpacity":0,"stroke":"#d6537f","strokeWidth":1.5},"encoding":{"x":{"field":"a","type":"quantitative","scale":{"domain":[0,1],"range":[7,1913],"zero":false,"nice":false},"axis":null},"x2":{"field":"b"},"y":{"field":"a","type":"quantitative","scale":{"domain":[0,1],"range":[5,1465],"zero":false,"nice":false},"axis":null},"y2":{"field":"b"}}},

{"data":{"name":"cellsA"},"layer":[
{"mark":{"type":"rect","fill":"white","stroke":"#231f20","strokeWidth":1.8},"encoding":{"x":{"field":"col","type":"nominal","sort":null,"scale":{"type":"band","domain":["Race","Graphoelements","Voltage","Continuity","Epileptiform transients","Variability","Reactivity","Overall EEG impression","EEG seizures (day 1)","EEG seizures (after day 1)"],"range":[151,490.5],"paddingInner":0,"paddingOuter":0},"axis":{"orient":"top","offset":-311,"title":"A","titleX":34,"titleY":-251,"titleAngle":0,"titleAlign":"left","titleBaseline":"alphabetic","titleFontSize":31,"titleFontWeight":"bold","titleColor":"#231f20","labelAngle":-90,"labelAlign":"left","labelBaseline":"middle","labelFontSize":24,"labelColor":"#231f20","labelPadding":9,"labelOffset":3,"labelOverlap":false,"labelLimit":400,"domain":false,"ticks":false}},"y":{"field":"row","type":"nominal","sort":null,"scale":{"type":"band","domain":["Sex","Race","Graphoelements","Voltage","Continuity","Epileptiform transients","Variability","Reactivity","Overall EEG impression","EEG seizures (day 1)"],"range":[311,652],"paddingInner":0,"paddingOuter":0},"axis":null}}},
{"mark":{"type":"point","filled":true,"opacity":1,"shape":"circle"},"encoding":{"x":{"field":"col","type":"nominal","sort":null},"y":{"field":"row","type":"nominal","sort":null,"axis":null},"size":{"field":"dot","type":"quantitative","scale":{"type":"pow","exponent":2,"domain":[0,65],"range":[0,795]},"legend":null},"color":{"field":"corr","type":"quantitative","scale":{"domain":[0,0.2,0.4,0.6,0.8,1],"range":["#f5e62a","#78c56f","#1bb786","#287e8d","#3f5194","#3e1e5e"],"interpolate":"rgb"},"legend":null}}}
]},
{"data":{"name":"rowLabels"},"mark":{"type":"text","align":"right","baseline":"middle","dx":-26,"fontSize":24,"color":"#231f20"},"encoding":{"x":{"field":"col","type":"nominal","sort":null,"scale":{"type":"band","domain":["Race","Graphoelements","Voltage","Continuity","Epileptiform transients","Variability","Reactivity","Overall EEG impression","EEG seizures (day 1)","EEG seizures (after day 1)"],"range":[151,490.5],"paddingInner":0,"paddingOuter":0},"axis":null},"y":{"field":"row","type":"nominal","sort":null,"scale":{"type":"band","domain":["Sex","Race","Graphoelements","Voltage","Continuity","Epileptiform transients","Variability","Reactivity","Overall EEG impression","EEG seizures (day 1)"],"range":[311,652],"paddingInner":0,"paddingOuter":0},"axis":null},"text":{"field":"row"}}},
{"data":{"name":"ramp"},"mark":{"type":"rect","strokeWidth":0.6},"encoding":{"x":{"datum":"Correlation","type":"nominal","scale":{"type":"band","domain":["Correlation"],"range":[517,532],"paddingInner":0,"paddingOuter":0},"axis":null},"y":{"field":"c","type":"quantitative","scale":{"domain":[0,1],"range":[652,311],"zero":false,"nice":false},"axis":{"orient":"right","offset":-1388,"values":[0,0.2,0.4,0.6,0.8,1],"labelExpr":"datum.value==0?'0':replace(format(datum.value,'.1f'),'.','·')","labelFontSize":24,"labelColor":"#231f20","tickSize":11,"tickColor":"#231f20","tickWidth":1.6,"labelPadding":3,"domain":false,"title":"Correlation","titleX":-15,"titleY":283,"titleAngle":0,"titleAlign":"left","titleBaseline":"alphabetic","titleFontSize":24,"titleFontWeight":"bold","titleColor":"#231f20"}},"y2":{"field":"d"},"color":{"field":"c","type":"quantitative","scale":{"domain":[0,0.2,0.4,0.6,0.8,1],"range":["#f5e62a","#78c56f","#1bb786","#287e8d","#3f5194","#3e1e5e"],"interpolate":"rgb"},"legend":null},"stroke":{"field":"c","type":"quantitative","scale":{"domain":[0,0.2,0.4,0.6,0.8,1],"range":["#f5e62a","#78c56f","#1bb786","#287e8d","#3f5194","#3e1e5e"],"interpolate":"rgb"},"legend":null}}},

{"data":{"name":"cellsC"},"layer":[
{"mark":{"type":"rect","fill":"white","stroke":"#231f20","strokeWidth":1.8},"encoding":{"x":{"field":"col","type":"nominal","sort":null,"scale":{"type":"band","domain":["Race","Graphoelements","Voltage","Continuity","Epileptiform transients","Variability","Reactivity","Overall EEG impression","EEG seizures (day 1)","EEG seizures (after day 1)"],"range":[150,490],"paddingInner":0,"paddingOuter":0},"axis":{"orient":"top","offset":-1020.5,"title":"C","titleX":39,"titleY":-250,"titleAngle":0,"titleAlign":"left","titleBaseline":"alphabetic","titleFontSize":31,"titleFontWeight":"bold","titleColor":"#231f20","labelAngle":-90,"labelAlign":"left","labelBaseline":"middle","labelFontSize":24,"labelColor":"#231f20","labelPadding":7,"labelOffset":6,"labelOverlap":false,"labelLimit":400,"domain":false,"ticks":false}},"y":{"field":"row","type":"nominal","sort":null,"scale":{"type":"band","domain":["Sex","Race","Graphoelements","Voltage","Continuity","Epileptiform transients","Variability","Reactivity","Overall EEG impression","EEG seizures (day 1)"],"range":[1020.5,1360],"paddingInner":0,"paddingOuter":0},"axis":null}}},
{"mark":{"type":"point","filled":true,"opacity":1,"shape":"circle"},"encoding":{"x":{"field":"col","type":"nominal","sort":null},"y":{"field":"row","type":"nominal","sort":null,"axis":null},"size":{"field":"dot","type":"quantitative","scale":{"type":"pow","exponent":2,"domain":[0,65],"range":[0,795]},"legend":null},"color":{"field":"corr","type":"quantitative","scale":{"domain":[0,0.2,0.4,0.6,0.8,1],"range":["#f5e62a","#78c56f","#1bb786","#287e8d","#3f5194","#3e1e5e"],"interpolate":"rgb"},"legend":null}}}
]},
{"data":{"name":"rowLabels"},"mark":{"type":"text","align":"right","baseline":"middle","dx":-26,"fontSize":24,"color":"#231f20"},"encoding":{"x":{"field":"col","type":"nominal","sort":null,"scale":{"type":"band","domain":["Race","Graphoelements","Voltage","Continuity","Epileptiform transients","Variability","Reactivity","Overall EEG impression","EEG seizures (day 1)","EEG seizures (after day 1)"],"range":[150,490],"paddingInner":0,"paddingOuter":0},"axis":null},"y":{"field":"row","type":"nominal","sort":null,"scale":{"type":"band","domain":["Sex","Race","Graphoelements","Voltage","Continuity","Epileptiform transients","Variability","Reactivity","Overall EEG impression","EEG seizures (day 1)"],"range":[1020.5,1360],"paddingInner":0,"paddingOuter":0},"axis":null},"text":{"field":"row"}}},
{"data":{"name":"ramp"},"mark":{"type":"rect","strokeWidth":0.6},"encoding":{"x":{"datum":"Correlation","type":"nominal","scale":{"type":"band","domain":["Correlation"],"range":[517,532],"paddingInner":0,"paddingOuter":0},"axis":null},"y":{"field":"c","type":"quantitative","scale":{"domain":[0,1],"range":[1360,1020.5],"zero":false,"nice":false},"axis":{"orient":"right","offset":-1388,"values":[0,0.2,0.4,0.6,0.8,1],"labelExpr":"datum.value==0?'0':replace(format(datum.value,'.1f'),'.','·')","labelFontSize":24,"labelColor":"#231f20","tickSize":11,"tickColor":"#231f20","tickWidth":1.6,"labelPadding":3,"domain":false,"title":"Correlation","titleX":-15,"titleY":991,"titleAngle":0,"titleAlign":"left","titleBaseline":"alphabetic","titleFontSize":24,"titleFontWeight":"bold","titleColor":"#231f20"}},"y2":{"field":"d"},"color":{"field":"c","type":"quantitative","scale":{"domain":[0,0.2,0.4,0.6,0.8,1],"range":["#f5e62a","#78c56f","#1bb786","#287e8d","#3f5194","#3e1e5e"],"interpolate":"rgb"},"legend":null},"stroke":{"field":"c","type":"quantitative","scale":{"domain":[0,0.2,0.4,0.6,0.8,1],"range":["#f5e62a","#78c56f","#1bb786","#287e8d","#3f5194","#3e1e5e"],"interpolate":"rgb"},"legend":null}}},

{"data":{"name":"heatBL"},"mark":{"type":"rect","strokeWidth":0.35},"encoding":{"x":{"field":"a","type":"quantitative","scale":{"domain":[14,677],"range":[759.7,980.7],"zero":false,"nice":false},"axis":null},"x2":{"field":"b"},"y":{"field":"r","type":"ordinal","scale":{"type":"band","domain":[0,1,2,3,4,5,6,7,8,9,10],"range":[277.7,650],"paddingInner":0,"paddingOuter":0},"axis":null},"color":{"field":"v","type":"nominal","scale":{"domain":["yes","na"],"range":["#257e8e","#b4b5b7"]},"legend":null},"stroke":{"field":"v","type":"nominal","scale":{"domain":["yes","na"],"range":["#257e8e","#d8d8d8"]},"legend":null}}},
{"data":{"name":"heatBR"},"mark":{"type":"rect","strokeWidth":0.35},"encoding":{"x":{"field":"a","type":"quantitative","scale":{"domain":[803,2347],"range":[987.8,1618],"zero":false,"nice":false},"axis":{"orient":"top","labels":false,"ticks":false,"domain":false,"title":"B","titleX":760,"titleY":61,"titleAngle":0,"titleAlign":"left","titleBaseline":"alphabetic","titleFontSize":31,"titleFontWeight":"bold","titleColor":"#231f20"}},"x2":{"field":"b"},"y":{"field":"r","type":"ordinal","scale":{"type":"band","domain":[0,1,2,3,4,5,6,7,8,9,10],"range":[277.7,650],"paddingInner":0,"paddingOuter":0},"axis":{"orient":"right","offset":-302,"labelExpr":"['Overall EEG impression','Continuity','Sex','Race','Epileptiform transients','EEG seizures (after day 1)','EEG seizures (day 1)','Reactivity','Variability','Voltage','Graphoelements'][datum.value]","labelFontSize":24,"labelColor":"#231f20","labelPadding":6,"labelLimit":400,"labelOverlap":false,"domain":false,"ticks":false,"title":null}},"color":{"field":"v","type":"nominal","scale":{"domain":["yes","na"],"range":["#257e8e","#b4b5b7"]},"legend":null},"stroke":{"field":"v","type":"nominal","scale":{"domain":["yes","na"],"range":["#257e8e","#d8d8d8"]},"legend":null}}},
{"data":{"name":"blocksBcohort"},"mark":{"type":"rect","fillOpacity":0,"stroke":"#231f20","strokeWidth":2},"encoding":{"x":{"field":"a","type":"quantitative","scale":{"domain":[242,2347],"range":[758.8,1618],"zero":false,"nice":false},"axis":null},"x2":{"field":"b"},"y":{"datum":0,"type":"quantitative","scale":{"domain":[0,1],"range":[277.7,650],"zero":false,"nice":false},"axis":null},"y2":{"datum":1}}},
{"data":{"name":"blocksBcohort"},"mark":{"type":"rect","stroke":"#231f20","strokeWidth":2},"encoding":{"x":{"field":"a","type":"quantitative","scale":{"domain":[242,2347],"range":[758.8,1618],"zero":false,"nice":false},"axis":null},"x2":{"field":"b"},"y":{"datum":"Seizure group","type":"nominal","scale":{"type":"band","domain":["Seizure group"],"range":[675,695],"paddingInner":0,"paddingOuter":0},"axis":null},"color":{"field":"group","type":"nominal","scale":{"domain":["Any seizures","No seizures"],"range":["#860f6b","#ffdf00"]},"legend":null}}},
{"data":{"name":"dendBLeft"},"layer":[
{"mark":{"type":"rule","color":"#231f20","strokeWidth":2},"encoding":{"x":{"field":"x","type":"quantitative","scale":{"domain":[0,235],"range":[660,755.9],"zero":false,"nice":false},"axis":null},"y":{"field":"a","type":"quantitative","scale":{"domain":[353,1470],"range":[277.7,650],"zero":false,"nice":false},"axis":null},"y2":{"field":"b"}}},
{"mark":{"type":"rule","color":"#231f20","strokeWidth":2},"encoding":{"x":{"field":"x","type":"quantitative"},"x2":{"field":"xa"},"y":{"field":"a","type":"quantitative"}}},
{"mark":{"type":"rule","color":"#231f20","strokeWidth":2},"encoding":{"x":{"field":"x","type":"quantitative"},"x2":{"field":"xb"},"y":{"field":"b","type":"quantitative"}}}
]},
{"data":{"name":"blocksB"},"mark":{"type":"rect","color":"#231f20"},"encoding":{"x":{"field":"a","type":"quantitative","scale":{"domain":[0,2625],"range":[755,1630],"zero":false,"nice":false},"axis":null},"x2":{"field":"b"},"y":{"field":"top","type":"quantitative","scale":{"domain":[0,315],"range":[175,280],"zero":false,"nice":false},"axis":null},"y2":{"field":"base"}}},
{"data":{"name":"dendB"},"layer":[
{"mark":{"type":"rule","color":"#231f20","strokeWidth":2},"encoding":{"x":{"field":"l","type":"quantitative","scale":{"domain":[0,2625],"range":[755,1630],"zero":false,"nice":false},"axis":null},"x2":{"field":"r"},"y":{"field":"y","type":"quantitative","scale":{"domain":[0,315],"range":[175,280],"zero":false,"nice":false},"axis":null}}},
{"mark":{"type":"rule","color":"#231f20","strokeWidth":2},"encoding":{"x":{"field":"l","type":"quantitative"},"y":{"field":"y","type":"quantitative"},"y2":{"field":"yl"}}},
{"mark":{"type":"rule","color":"#231f20","strokeWidth":2},"encoding":{"x":{"field":"r","type":"quantitative"},"y":{"field":"y","type":"quantitative"},"y2":{"field":"yr"}}}
]},
{"data":{"name":"baseB"},"mark":{"type":"rule","color":"#231f20","strokeWidth":2.2},"encoding":{"x":{"field":"a","type":"quantitative","scale":{"domain":[0,2625],"range":[755,1630],"zero":false,"nice":false},"axis":null},"x2":{"field":"b"},"y":{"field":"y","type":"quantitative","scale":{"domain":[0,315],"range":[175,280],"zero":false,"nice":false},"axis":null}}},
{"data":{"values":[{"a":208,"b":1782,"y":70}]},"mark":{"type":"rule","color":"#5f7e8d","strokeWidth":2,"strokeDash":[9,6]},"encoding":{"x":{"field":"a","type":"quantitative","scale":{"domain":[0,2625],"range":[755,1630],"zero":false,"nice":false},"axis":null},"x2":{"field":"b"},"y":{"field":"y","type":"quantitative","scale":{"domain":[0,315],"range":[175,280],"zero":false,"nice":false},"axis":null}}},

{"data":{"name":"heatD"},"mark":{"type":"rect"},"encoding":{"x":{"field":"a","type":"quantitative","scale":{"domain":[220,2324.5],"range":[759.8,1618.8],"zero":false,"nice":false},"axis":{"orient":"top","labels":false,"ticks":false,"domain":false,"title":"D","titleX":760,"titleY":771,"titleAngle":0,"titleAlign":"left","titleBaseline":"alphabetic","titleFontSize":31,"titleFontWeight":"bold","titleColor":"#231f20"}},"x2":{"field":"b"},"y":{"field":"r","type":"ordinal","scale":{"type":"band","domain":[0,1,2,3,4,5,6,7,8,9,10],"range":[984.6,1358],"paddingInner":0,"paddingOuter":0},"axis":{"orient":"right","offset":-301,"labelExpr":"['Sex','Overall EEG impression','Continuity','Race','Voltage','Variability','Reactivity','Graphoelements','EEG seizures (after day 1)','EEG seizures (day 1)','Epileptiform transients'][datum.value]","labelFontSize":24,"labelColor":"#231f20","labelPadding":7,"labelLimit":400,"labelOverlap":false,"domain":false,"ticks":false,"title":null}},"color":{"field":"v","type":"nominal","scale":{"domain":["yes","na"],"range":["#257e8e","#b4b5b7"]},"legend":null}}},
{"data":{"name":"cohortD"},"mark":{"type":"rect","fillOpacity":0,"stroke":"#231f20","strokeWidth":2},"encoding":{"x":{"field":"a","type":"quantitative","scale":{"domain":[220,2324.5],"range":[759.8,1618.8],"zero":false,"nice":false},"axis":null},"x2":{"field":"b"},"y":{"datum":0,"type":"quantitative","scale":{"domain":[0,1],"range":[984.6,1358],"zero":false,"nice":false},"axis":null},"y2":{"datum":1}}},
{"data":{"name":"cohortD"},"mark":{"type":"rect","stroke":"#231f20","strokeWidth":2},"encoding":{"x":{"field":"a","type":"quantitative","scale":{"domain":[220,2324.5],"range":[759.8,1618.8],"zero":false,"nice":false},"axis":null},"x2":{"field":"b"},"y":{"datum":"Seizure group","type":"nominal","scale":{"type":"band","domain":["Seizure group"],"range":[1380,1403.6],"paddingInner":0,"paddingOuter":0},"axis":null},"color":{"field":"group","type":"nominal","scale":{"domain":["Any seizures","No seizures"],"range":["#860f6b","#ffdf00"]},"legend":null}}},
{"data":{"name":"cohortD"},"mark":{"type":"text","baseline":"alphabetic","fontSize":24,"color":"#231f20","dy":41},"encoding":{"x":{"field":"mid","type":"quantitative","scale":{"domain":[220,2324.5],"range":[759.8,1618.8],"zero":false,"nice":false},"axis":null},"y":{"datum":"Seizure group","type":"nominal","scale":{"type":"band","domain":["Seizure group"],"range":[1380,1403.6],"paddingInner":0,"paddingOuter":0},"axis":null},"text":{"field":"group"}}},
{"data":{"name":"dendDLeft"},"layer":[
{"mark":{"type":"rule","color":"#231f20","strokeWidth":2},"encoding":{"x":{"field":"x","type":"quantitative","scale":{"domain":[0,214],"range":[670,757.3],"zero":false,"nice":false},"axis":null},"y":{"field":"a","type":"quantitative","scale":{"domain":[265,1310],"range":[984.6,1357.9],"zero":false,"nice":false},"axis":null},"y2":{"field":"b"}}},
{"mark":{"type":"rule","color":"#231f20","strokeWidth":2},"encoding":{"x":{"field":"x","type":"quantitative"},"x2":{"field":"xa"},"y":{"field":"a","type":"quantitative"}}},
{"mark":{"type":"rule","color":"#231f20","strokeWidth":2},"encoding":{"x":{"field":"x","type":"quantitative"},"x2":{"field":"xb"},"y":{"field":"b","type":"quantitative"}}}
]},
{"data":{"name":"dendD"},"layer":[
{"mark":{"type":"rule","color":"#231f20","strokeWidth":2},"encoding":{"x":{"field":"l","type":"quantitative","scale":{"domain":[0,2625],"range":[755,1630],"zero":false,"nice":false},"axis":null},"x2":{"field":"r"},"y":{"field":"y","type":"quantitative","scale":{"domain":[0,330],"range":[875,985],"zero":false,"nice":false},"axis":null}}},
{"mark":{"type":"rule","color":"#231f20","strokeWidth":2},"encoding":{"x":{"field":"l","type":"quantitative"},"y":{"field":"y","type":"quantitative"},"y2":{"field":"yl"}}},
{"mark":{"type":"rule","color":"#231f20","strokeWidth":2},"encoding":{"x":{"field":"r","type":"quantitative"},"y":{"field":"y","type":"quantitative"},"y2":{"field":"yr"}}}
]},
{"data":{"name":"feetD"},"mark":{"type":"rule","color":"#231f20","strokeWidth":2},"encoding":{"x":{"field":"a","type":"quantitative","scale":{"domain":[0,2625],"range":[755,1630],"zero":false,"nice":false},"axis":null},"x2":{"field":"b"},"y":{"field":"y","type":"quantitative","scale":{"domain":[0,330],"range":[875,985],"zero":false,"nice":false},"axis":null}}},
{"data":{"values":[{"a":368,"b":1815,"y":105}]},"mark":{"type":"rule","color":"#5f7e8d","strokeWidth":2,"strokeDash":[9,6]},"encoding":{"x":{"field":"a","type":"quantitative","scale":{"domain":[0,2625],"range":[755,1630],"zero":false,"nice":false},"axis":null},"x2":{"field":"b"},"y":{"field":"y","type":"quantitative","scale":{"domain":[0,330],"range":[875,985],"zero":false,"nice":false},"axis":null}}}
]
}
